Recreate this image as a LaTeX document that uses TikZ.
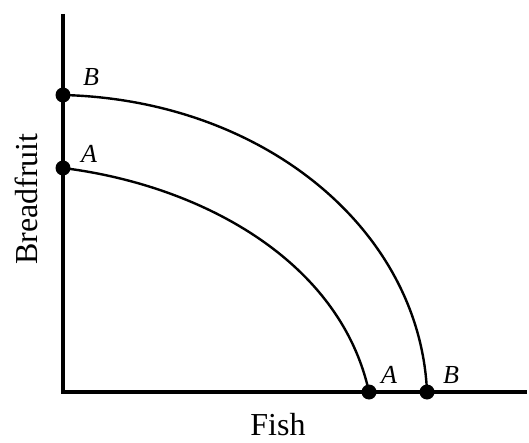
\documentclass[tikz,border=0pt]{standalone}
\usepackage{fontspec}
\setmainfont{Liberation Serif}
\begin{document}
\begin{tikzpicture}[x=1pt,y=-1pt,
  axisline/.style={line width=4pt},
  ppf/.style={line width=2.4pt},
  pt/.style={circle,fill=black,inner sep=0pt,minimum size=15pt},
  lbl/.style={font=\fontsize{26}{28}\selectfont\itshape,inner sep=0pt},
  axlbl/.style={font=\fontsize{32}{34}\selectfont,inner sep=0pt}]
\useasboundingbox (0,0) rectangle (529,443);
\coordinate (top) at (63,14);
\coordinate (origin) at (63,392);
\coordinate (right) at (527,392);
\draw[axisline] (top) -- (origin) -- (right);
\node[pt] (By) at (63,95) {};
\node[pt] (Ay) at (63,168) {};
\node[pt] (Ax) at (369,392) {};
\node[pt] (Bx) at (427,392) {};
\draw[ppf] (By.center) .. controls (264,100) and (420,230) .. (Bx.center);
\draw[ppf] (Ay.center) .. controls (200,185) and (340,260) .. (Ax.center);
\node[lbl] (lBy) at (91,77) {B};
\node[lbl] (lAy) at (89,154) {A};
\node[lbl] (lAx) at (389,375) {A};
\node[lbl] (lBx) at (451,375) {B};
\node[axlbl,rotate=90] (ylab) at (26,199) {Breadfruit};
\node[axlbl,anchor=base] (xlab) at (278,435) {Fish};
\end{tikzpicture}
\end{document}
